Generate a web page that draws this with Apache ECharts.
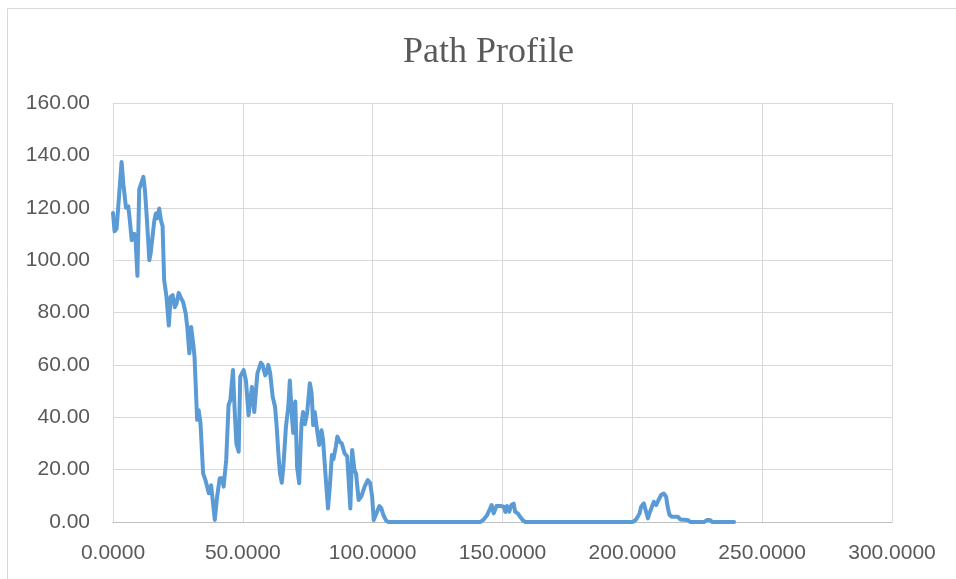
<!DOCTYPE html>
<html>
<head>
<meta charset="utf-8">
<script src="https://cdn.jsdelivr.net/npm/echarts@6/dist/echarts.min.js"></script>
<style>
  html, body { margin: 0; padding: 0; background: #fff; }
  #chart { width: 956px; height: 579px; }
</style>
</head>
<body>
<div id="chart"></div>
<script>
// distance along path and elevation
const distance = [
    0, 0.6, 1.4, 3.3, 4, 5, 5.9, 6.5, 7.2, 8.2, 8.7, 9.4, 10.1, 10.4, 11.3, 11.7,
    12.3, 13, 14, 14.5, 15, 15.9, 16.5, 17, 17.8, 18.5, 19.1, 19.7, 20.6, 21.5,
    22.2, 23, 23.8, 24.5, 25.3, 26.2, 27, 28, 28.6, 29.4, 30.1, 30.9, 31.4, 32.4,
    33, 33.7, 34.7, 35.6, 36.9, 37.8, 38.4, 39.2, 40.1, 41.1, 42, 42.6, 43.6, 44.5,
    45.2, 46.2, 46.8, 47.5, 48.4, 49, 50.3, 51.2, 52.2, 53.5, 54.4, 55.6, 56.9,
    57.6, 58.6, 59.2, 59.8, 60.5, 61.5, 62.4, 63, 63.7, 64.3, 65, 65.6, 66.6, 67.5,
    68.1, 68.9, 69.4, 70.2, 70.9, 71.7, 72.6, 73.2, 73.9, 74.8, 75.8, 76.5, 77.1,
    77.7, 78.6, 79.4, 80.3, 80.9, 81.8, 82.8, 83.5, 84.3, 84.9, 85.8, 86.4, 87.3,
    88.1, 89.2, 90.2, 90.9, 91.4, 92.1, 93, 93.6, 94.6, 95.6, 96.9, 98.1, 99, 99.8,
    100.4, 100.9, 102.6, 103.3, 104.1, 105.2, 106.1,
    141.5, 142.8, 144.1, 145, 145.8, 146.6, 147.7, 149.2, 150.5, 151.1, 151.7,
    152.6, 153.4, 154.3, 154.9, 155.9, 156.8, 157.9, 158.8,
    200.2, 201.5, 202.8, 203.4, 204.4, 205.3, 206, 206.6, 207.8, 208.3, 209.2,
    210.1, 211.1, 212.1, 213, 213.6, 214.3, 215.3, 217.5, 218.5, 221.3, 222.3,
    227.6, 228.9, 229.9, 230.8, 239.2
];
const elevation = [
    118, 111, 112, 137.5, 129, 120, 120.5, 115, 107.6, 110, 107.6, 94, 127, 128, 130.5, 131.8,
    126.7, 116.5, 100, 102.6, 102, 115, 117.8, 116, 119.7, 115, 113, 92.4, 86, 75,
    86, 86.6, 82, 83.5, 87.5, 85.4, 84, 79.6, 74.5, 64.4, 74.5, 68, 63, 39,
    42.7, 37.7, 18.6, 16, 11, 14, 13.5, 0.8, 9.7, 16.7, 16.7, 13.5, 23.7, 44.7,
    46.6, 58, 44, 30, 26.8, 55.5, 58, 54, 40.8, 51.6, 42, 56.7, 60.8,
    60, 56, 57, 60, 57, 47.8, 44, 37, 26, 18.6, 15, 21, 36.4, 44,
    54, 40.2, 34, 46, 21, 14.8, 37.7, 42, 37.3, 42, 53, 49, 37,
    42, 35, 29.4, 35, 31.3, 18.6, 5.2, 13.5, 25.6, 24, 28.7, 32.6, 30.6,
    30, 26.2, 25, 13.5, 5.2, 27.5, 19.8, 18.5, 8.4, 9.7, 13.5, 16, 15, 9.7,
    0.8, 1, 6.1, 5.3, 2.7, 0.5, 0,
    0, 1, 2.7, 4.6, 6.5, 3.3, 6.1, 6.1, 5.8, 3.8, 6.1,
    3.9, 6.5, 7, 3.9, 3.3, 2, 0.6, 0,
    0, 1, 3.3, 5.8, 7.1, 3.9, 1.4, 3.3, 6.5, 7.7, 6.5,
    8.4, 10.3, 10.9, 9.7, 5.8, 2.7, 2, 2, 1, 0.8, 0,
    0, 0.8, 0.8, 0, 0
];

const LABEL_FONT = '"Liberation Sans", Arial, sans-serif';

const chart = echarts.init(document.getElementById('chart'));

chart.setOption({
    animation: false,
    backgroundColor: '#fff',
    title: {
        text: 'Path Profile',
        left: 398,
        top: 30,
        textStyle: {
            fontFamily: '"Liberation Serif", "Times New Roman", serif',
            fontSize: 36,
            fontWeight: 'normal',
            color: '#595959'
        }
    },
    graphic: [{
        type: 'rect',
        shape: { x: 7.5, y: 8.5, width: 1200, height: 1200 },
        style: { fill: 'none', stroke: '#d9d9d9', lineWidth: 1 },
        silent: true
    }],
    grid: { left: 113, right: 64, top: 103, bottom: 57 },
    xAxis: {
        type: 'value',
        min: 0, max: 300, interval: 50,
        axisLine: { show: true, lineStyle: { color: '#bfbfbf', width: 1 } },
        axisTick: { show: false },
        splitLine: { show: true, lineStyle: { color: '#d9d9d9', width: 1 } },
        axisLabel: {
            formatter: v => v.toFixed(4),
            fontFamily: LABEL_FONT,
            fontSize: 21,
            color: '#595959',
            margin: 21
        }
    },
    yAxis: {
        type: 'value',
        min: 0, max: 160, interval: 20,
        axisLine: { show: false },
        axisTick: { show: false },
        splitLine: { show: true, lineStyle: { color: '#d9d9d9', width: 1 } },
        axisLabel: {
            formatter: v => v.toFixed(2),
            fontFamily: LABEL_FONT,
            fontSize: 21,
            color: '#595959',
            margin: 23
        }
    },
    series: [{
        type: 'line',
        data: distance.map((d, i) => [d, elevation[i]]),
        showSymbol: false,
        symbol: 'none',
        lineStyle: { color: '#5b9bd5', width: 4, join: 'round', cap: 'round' },
        itemStyle: { color: '#5b9bd5' }
    }]
});
</script>
</body>
</html>
